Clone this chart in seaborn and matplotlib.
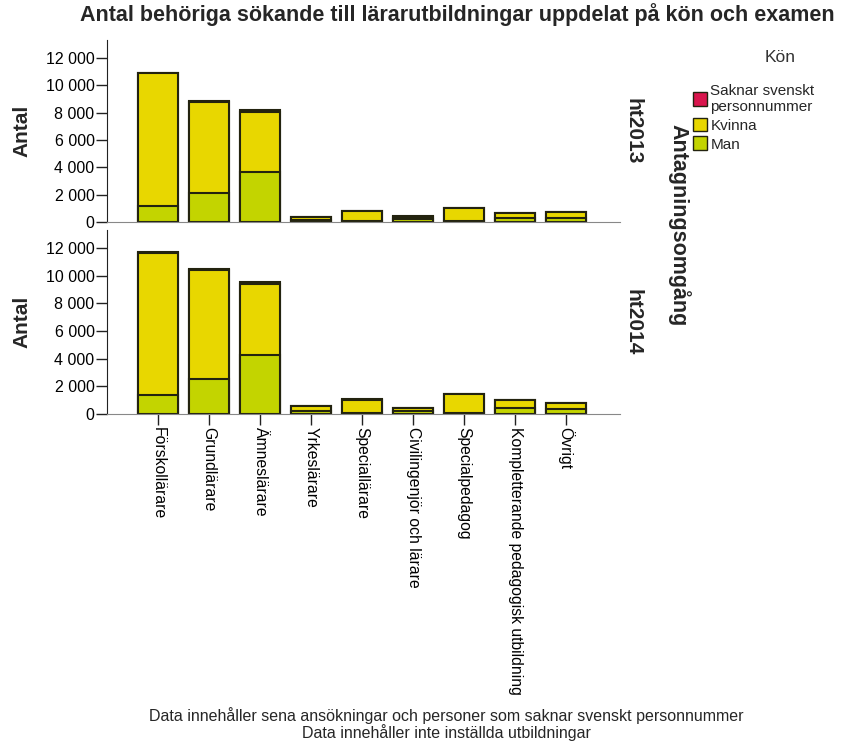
import numpy as np
import pandas as pd
import seaborn as sns
import matplotlib.pyplot as plt
from matplotlib.patches import Patch

# data
utbildningar = ['Förskollärare', 'Grundlärare', 'Ämneslärare', 'Yrkeslärare', 'Speciallärare',
                'Civilingenjör och lärare', 'Specialpedagog', 'Kompletterande pedagogisk utbildning', 'Övrigt']
omgangar = ['ht2013', 'ht2014']

man_2013 = [1170, 2100, 3670, 180, 100, 250, 80, 300, 300]
kvinna_2013 = [9700, 6700, 4400, 170, 700, 150, 920, 350, 400]
saknar_2013 = [30, 40, 90, 10, 10, 10, 10, 10, 10]

man_2014 = [1350, 2540, 4290, 200, 80, 250, 100, 450, 350]
kvinna_2014 = [10300, 7870, 5140, 390, 970, 150, 1340, 540, 440]
saknar_2014 = [50, 40, 100, 10, 10, 10, 10, 10, 10]

kon = ['Saknar svenskt\npersonnummer', 'Kvinna', 'Man']
farger = {'Saknar svenskt\npersonnummer': '#d9164d', 'Kvinna': '#e8d700', 'Man': '#c3d400'}
kant = '#23230f'

sns.set_style('white')
plt.rcParams['font.family'] = ['Liberation Sans', 'DejaVu Sans']

fig = plt.figure(figsize=(8.54, 7.46), dpi=100)
ax_top = fig.add_axes([0.1253, 0.7024, 0.601, 0.244])
ax_bot = fig.add_axes([0.1253, 0.445, 0.601, 0.2466])

data = {
    'ht2013': (man_2013, kvinna_2013, saknar_2013),
    'ht2014': (man_2014, kvinna_2014, saknar_2014),
}

for ax, omg in zip([ax_top, ax_bot], omgangar):
    man, kvinna, saknar = data[omg]
    df = pd.DataFrame({'utb': utbildningar, 'Man': man, 'Kvinna': kvinna, 'Saknar': saknar})
    # staplade staplar: ritar kumulativa summor ovanpå varandra
    df['tot'] = df['Man'] + df['Kvinna'] + df['Saknar']
    df['mk'] = df['Man'] + df['Kvinna']
    sns.barplot(data=df, x='utb', y='tot', order=utbildningar, color=farger[kon[0]], saturation=1,
                width=0.78, edgecolor=kant, linewidth=1.5, ax=ax)
    sns.barplot(data=df, x='utb', y='mk', order=utbildningar, color=farger['Kvinna'], saturation=1,
                width=0.78, edgecolor=kant, linewidth=1.5, ax=ax)
    sns.barplot(data=df, x='utb', y='Man', order=utbildningar, color=farger['Man'], saturation=1,
                width=0.78, edgecolor=kant, linewidth=1.5, ax=ax)

    ax.set_xlim(-1, 9.06)
    ax.set_ylim(0, 13300)
    ax.set_yticks(np.arange(0, 12001, 2000))
    ax.set_yticklabels(['0' if v == 0 else f'{v // 1000} 000' for v in range(0, 12001, 2000)],
                       fontsize=11.5, color='black')
    ax.set_xlabel('')
    ax.set_ylabel('')
    sns.despine(ax=ax)
    ax.spines['left'].set_color('#222222')
    ax.spines['bottom'].set_color('#888888')
    ax.tick_params(axis='y', left=True, length=8, width=1, color='#222222', pad=1)
    ax.text(1.025, 0.5, omg, transform=ax.transAxes, rotation=270,
            ha='center', va='center', fontsize=15, fontweight='bold')
    fig.text(0.026, ax.get_position().y0 + ax.get_position().height * 0.5, 'Antal', rotation=90,
             ha='center', va='center', fontsize=15, fontweight='bold')

ax_top.set_xticks([])
ax_bot.set_xticks(range(len(utbildningar)))
ax_bot.set_xticklabels(utbildningar, rotation=270, fontsize=11.3, va='top', ha='center', color='black')
ax_bot.tick_params(axis='x', bottom=True, length=8, width=1, color='#222222', pad=1)

fig.text(0.535, 0.981, 'Antal behöriga sökande till lärarutbildningar uppdelat på kön och examen',
         ha='center', va='center', fontsize=15.5, fontweight='bold')
fig.text(0.795, 0.698, 'Antagningsomgång', rotation=270, ha='center', va='center',
         fontsize=15.5, fontweight='bold')

fig.text(0.914, 0.923, 'Kön', ha='center', va='center', fontsize=12.5, color='#333333')
handles = [Patch(facecolor=farger[k], edgecolor=kant, linewidth=1) for k in kon]
leg = fig.legend(handles, kon, loc='upper left', bbox_to_anchor=(0.812, 0.888),
                 frameon=False, fontsize=11, handlelength=0.9, handleheight=1.0,
                 handletextpad=0.2, labelspacing=0.25, borderpad=0, borderaxespad=0)

fig.text(0.523, 0.0415, 'Data innehåller sena ansökningar och personer som saknar svenskt personnummer',
         ha='center', va='center', fontsize=11.5)
fig.text(0.523, 0.0175, 'Data innehåller inte inställda utbildningar',
         ha='center', va='center', fontsize=11.5)

fig.savefig('out.png', dpi=100)
